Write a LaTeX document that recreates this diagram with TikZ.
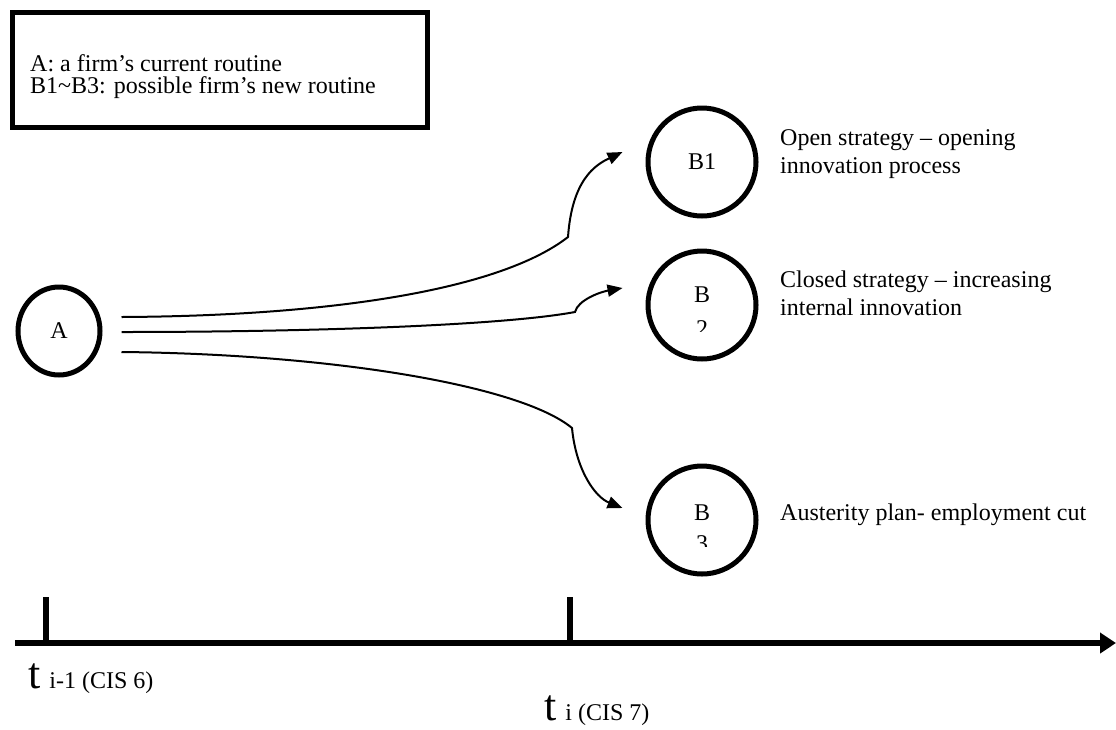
\documentclass[tikz,border=0pt]{standalone}
\usepackage{fontspec}
\setmainfont{Liberation Serif}
\usetikzlibrary{arrows.meta,positioning,shapes.geometric}

\begin{document}
\begin{tikzpicture}[x=1pt, y=-1pt]
\tikzstyle{routine} = [circle, draw, line width=5pt, minimum size=108pt, inner sep=0pt, font=\fontsize{24}{28}\selectfont]
\tikzstyle{note} = [inner sep=0pt, align=left, anchor=base west, font=\fontsize{24}{28}\selectfont]
\tikzstyle{digit} = [inner sep=0pt, anchor=base, font=\fontsize{24}{28}\selectfont]
\tikzstyle{flow} = [line width=2pt, -{Triangle[length=15pt,width=12pt]}]
\tikzstyle{axis} = [line width=6pt]
\tikzstyle{stamp} = [inner sep=0pt, anchor=base west]

\useasboundingbox (0,0) rectangle (1116,729);

% legend box
\node (legend) [draw, line width=4.5pt, minimum width=415pt, minimum height=115pt, anchor=north west] at (10,10) {};
\node (legendtext) [note, font=\fontsize{24}{22}\selectfont] at (30,93) {A: a firm's current routine\\B1\textasciitilde B3: possible firm's new routine};

% routines
\node (a) [routine, ellipse, minimum width=82pt, minimum height=88pt] at (59,331) {A};
\node (b1) [routine] at (702,162) {B1};
\node (b2) [routine] at (702,305) {};
\node (b3) [routine] at (702,520) {};

\node [digit] at ([yshift=3pt]b2.center) {B};
\begin{scope}
\clip ([xshift=-12pt,yshift=-10pt]b2.center) rectangle ([xshift=12pt,yshift=-26pt]b2.center);
\node [digit] at ([yshift=-31pt]b2.center) {2};
\end{scope}
\node [digit] at (b3.center) {B};
\begin{scope}
\clip ([xshift=-12pt,yshift=-10pt]b3.center) rectangle ([xshift=12pt,yshift=-26pt]b3.center);
\node [digit] at ([yshift=-31pt]b3.center) {3};
\end{scope}

% strategies
\node (open) [note] at (780,173) {Open strategy -- opening\\innovation process};
\node (closed) [note] at (780,315) {Closed strategy -- increasing\\internal innovation};
\node (austerity) [note] at (780,520) {Austerity plan- employment cut};

% paths from A
\draw[flow] ([shift={(19pt,14pt)}]a.east) .. controls (330,316) and (500,290) .. (568,237)
  .. controls (572,180) and (595,165) .. ([shift={(-23pt,10pt)}]b1.west);
\draw[flow] ([shift={(19pt,-1pt)}]a.east) .. controls (300,332) and (500,326) .. (575,312)
  .. controls (578,300) and (600,292) .. ([shift={(-23pt,17pt)}]b2.west);
\draw[flow] ([shift={(19pt,-21pt)}]a.east) .. controls (330,354) and (520,385) .. (572,428)
  .. controls (576,470) and (595,497) .. ([shift={(-23pt,12pt)}]b3.west);

% time axis
\coordinate (origin) at (15,643);
\coordinate (future) at (1116,643);
\coordinate (past) at (46,643);
\coordinate (now) at (570,643);
\draw[axis, -{Triangle[length=16pt,width=20pt]}] (origin) -- (future);
\draw[axis] (past) -- ++(0,-46);
\draw[axis] (now) -- ++(0,-46);
\node (tprev) [stamp] at (28,688) {\fontsize{44}{44}\selectfont t\hspace{9pt}\fontsize{24}{24}\selectfont i-1 (CIS 6)};
\node (tnow) [stamp] at (544,720) {\fontsize{44}{44}\selectfont t\hspace{9pt}\fontsize{24}{24}\selectfont i (CIS 7)};
\end{tikzpicture}
\end{document}
